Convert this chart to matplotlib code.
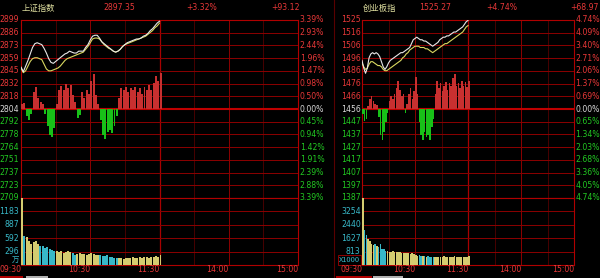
import numpy as np
import matplotlib.pyplot as plt
from matplotlib.transforms import blended_transform_factory
from matplotlib.patches import Rectangle

plt.rcParams['font.family'] = ['Noto Sans CJK SC', 'DejaVu Sans']

# Data: minutes after 09:30, sampled every 2 min (morning session)
t = np.arange(0, 121, 2)

# Shanghai composite
sh_name = "上证指数"
sh_prev = 2804.23
sh_head = ["2897.35", "+3.32%", "+93.12"]
sh_price = [2849, 2844, 2850, 2856, 2863, 2870, 2874, 2875, 2874, 2873,
            2869, 2864, 2858, 2854, 2853, 2855, 2857, 2859, 2861, 2863,
            2864, 2866, 2865, 2864, 2864, 2866, 2866, 2866, 2870, 2873,
            2878, 2882, 2883, 2883, 2880, 2876, 2874, 2872, 2870, 2868,
            2866, 2865, 2866, 2868, 2871, 2873, 2875, 2876, 2877, 2878,
            2879, 2879, 2880, 2882, 2883, 2885, 2888, 2890, 2893, 2896, 2898]
sh_avg = [2848, 2843, 2845, 2850, 2855, 2858, 2859, 2859, 2858, 2857,
          2852, 2847, 2845, 2845, 2846, 2847, 2848, 2850, 2853, 2856,
          2858, 2859, 2860, 2861, 2862, 2863, 2864, 2865, 2868, 2871,
          2875, 2879, 2880, 2880, 2879, 2876, 2873, 2871, 2869, 2868,
          2866, 2865, 2866, 2868, 2871, 2873, 2874, 2875, 2876, 2877,
          2878, 2879, 2880, 2881, 2882, 2884, 2886, 2888, 2891, 2893, 2896]
sh_power = [5, 6, -8, -12, -5, 18, 24, 12, 8, 5,
            -5, -18, -28, -30, -20, 5, 20, 25, 20, 27,
            22, 26, 15, 8, -10, -6, 18, 12, 20, 16,
            30, 37, 15, 5, -12, -28, -32, -25, -22, -26,
            -18, -8, 12, 22, 20, 23, 18, 22, 20, 24,
            18, 22, 16, 24, 20, 26, 20, 28, 35, 30, 38]
sh_vol = [1480, 650, 620, 520, 470, 500, 540, 470, 420, 420,
          380, 400, 360, 330, 320, 300, 280, 300, 260, 290,
          300, 280, 260, 230, 240, 260, 250, 240, 230, 250,
          260, 240, 220, 230, 210, 200, 190, 210, 180, 170,
          160, 150, 150, 150, 140, 150, 160, 150, 170, 160,
          150, 170, 160, 180, 170, 160, 180, 170, 190, 180, 210]
sh_left = ["2899", "2886", "2873", "2859", "2845", "2832", "2818", "2804",
           "2792", "2778", "2764", "2751", "2737", "2723", "2709"]
sh_right = ["3.39%", "2.93%", "2.44%", "1.96%", "1.47%", "0.98%", "0.50%", "0.00%",
            "0.45%", "0.94%", "1.42%", "1.91%", "2.39%", "2.88%", "3.39%"]
sh_vol_labels = ["1183", "887", "592", "296"]
sh_vol_top = 1479
sh_unit = "万"

# ChiNext
cy_name = "创业板指"
cy_prev = 1456.30
cy_head = ["1525.27", "+4.74%", "+68.97"]
cy_price = [1494, 1488, 1484, 1488, 1496, 1499, 1500, 1499, 1500, 1499,
            1497, 1493, 1489, 1487, 1489, 1492, 1494, 1495, 1496, 1497,
            1498, 1499, 1500, 1500, 1501, 1502, 1503, 1504, 1507, 1510,
            1511, 1512, 1511, 1510, 1510, 1509, 1509, 1508, 1507, 1506,
            1505, 1506, 1507, 1508, 1510, 1511, 1512, 1512, 1513, 1513,
            1514, 1515, 1516, 1516, 1517, 1518, 1519, 1520, 1522, 1524, 1525]
cy_avg = [1492, 1489, 1487, 1488, 1491, 1493, 1493, 1492, 1491, 1490,
          1490, 1489, 1487, 1486, 1486, 1487, 1488, 1489, 1490, 1491,
          1492, 1493, 1494, 1496, 1497, 1499, 1500, 1502, 1503, 1504,
          1505, 1505, 1505, 1504, 1504, 1504, 1503, 1503, 1502, 1501,
          1500, 1501, 1502, 1503, 1504, 1505, 1506, 1507, 1507, 1508,
          1509, 1510, 1511, 1512, 1513, 1514, 1515, 1516, 1518, 1520, 1521]
cy_power = [-4, -9, -8, 2, 8, 10, 6, 4, 3, -6,
            -20, -24, -18, -10, -3, 6, 10, 8, 12, 16,
            22, 15, 10, 12, -3, 4, 12, 16, 8, 14,
            25, 12, -10, -20, -24, -18, -22, -20, -24, -14,
            -8, 12, 22, 16, 20, 14, 18, 21, 15, 20,
            18, 24, 27, 18, 20, 16, 22, 18, 21, 17, 22]
cy_vol = [4100, 2100, 1800, 1600, 1450, 1300, 1200, 1250, 1150, 1100,
          1300, 1000, 950, 880, 850, 800, 780, 820, 790, 760,
          800, 770, 740, 720, 750, 730, 700, 680, 720, 650,
          600, 560, 580, 540, 520, 550, 500, 520, 480, 500,
          470, 490, 460, 500, 480, 470, 520, 480, 460, 500,
          480, 470, 550, 500, 480, 460, 500, 470, 490, 480, 520]
cy_left = ["1525", "1516", "1506", "1496", "1486", "1476", "1466", "1456",
           "1447", "1437", "1427", "1417", "1407", "1397", "1387"]
cy_right = ["4.74%", "4.09%", "3.40%", "2.71%", "2.06%", "1.37%", "0.69%", "0.00%",
            "0.65%", "1.34%", "2.03%", "2.68%", "3.36%", "4.05%", "4.74%"]
cy_vol_labels = ["3254", "2440", "1627", "813"]
cy_vol_top = 4067
cy_unit = "X1000"

time_ticks = [0, 60, 120, 180, 240]
time_labels = ["09:30", "10:30", "11:30", "14:00", "15:00"]

W, H = 600, 278
BG = 'black'
RED = '#e83838'
GREEN = '#22c822'
CYAN = '#38b8c8'
GRID = '#8c0000'
DIM = '#480000'

fig = plt.figure(figsize=(6.0, 2.78), dpi=100, facecolor=BG)


def px_axes(x0, y0, x1, y1):
    return fig.add_axes([x0 / W, 1 - y1 / H, (x1 - x0) / W, (y1 - y0) / H])


def ftext(x, y, s, **kw):
    fig.text(x / W, 1 - y / H, s, **kw)


def panel(x0, x1, name, head, prev, pct, price, avg, power, vol, left, right,
          vlabels, vtop, unit, head_x):
    ax = px_axes(x0, 20, x1, 198)
    av = px_axes(x0, 198, x1, 265)
    hi, lo = prev * (1 + pct), prev * (1 - pct)
    for a in (ax, av):
        a.set_facecolor(BG)
        a.set_xlim(0, 240)
        a.set_xticks([])
        a.set_yticks([])
        for s in a.spines.values():
            s.set_color('#b00000')
            s.set_linewidth(0.8)
        for m in (30, 90, 150, 210):
            a.axvline(m, color=DIM, lw=0.7, zorder=1)
        for m in (60, 180):
            a.axvline(m, color=GRID, lw=0.7, zorder=1)
        a.axvline(120, color='#a80000', lw=0.9, zorder=1)
    ax.set_ylim(lo, hi)
    levels = np.linspace(hi, lo, len(left))
    tr = blended_transform_factory(ax.transAxes, ax.transData)
    for i, (lv, ll, rl) in enumerate(zip(levels, left, right)):
        mid = i == len(left) // 2
        if not mid:
            ax.axhline(lv, color=GRID, lw=0.7, zorder=1)
        col = '#d8d8d8' if mid else (RED if i < len(left) // 2 else GREEN)
        ax.text(-0.006, lv, ll, transform=tr, ha='right', va='center',
                color=col, fontsize=5.6, family='DejaVu Sans', clip_on=False)
        ax.text(1.006, lv, rl, transform=tr, ha='left', va='center',
                color=col, fontsize=5.6, family='DejaVu Sans', clip_on=False)
    ax.axhline(prev, color='#c00000', lw=1.5, zorder=2)
    pw = np.array(power, dtype=float)
    ax.bar(t + 1, pw, bottom=prev, width=1.7,
           color=np.where(pw > 0, '#c83030', '#18c018'), zorder=3)
    ax.plot(t, avg, color='#d8d860', lw=0.8, zorder=4)
    ax.plot(t, price, color='#e8e8e8', lw=0.8, zorder=5)

    av.set_ylim(0, vtop)
    trv = blended_transform_factory(av.transAxes, av.transData)
    for k, vl in enumerate(vlabels):
        lv = vtop * (len(vlabels) - k) / (len(vlabels) + 1)
        av.axhline(lv, color=GRID, lw=0.7, zorder=1)
        av.text(-0.006, lv, vl, transform=trv, ha='right', va='center',
                color=CYAN, fontsize=5.6, family='DejaVu Sans', clip_on=False)
    up = np.diff(np.concatenate([[price[0]], price])) >= 0
    av.bar(t, vol, width=1.7, align='edge',
           color=np.where(up, '#d4cc70', CYAN), zorder=3)
    boxed = unit != "万"
    av.text(-0.008, 0.015, unit, transform=av.transAxes, ha='right', va='bottom',
            color=CYAN, fontsize=5.4, clip_on=False,
            bbox=dict(boxstyle='square,pad=0.12', fc='none',
                      ec='#900000' if boxed else 'none', lw=0.7))
    tx = blended_transform_factory(av.transData, fig.transFigure)
    for m, lab in zip(time_ticks, time_labels):
        av.text(m, 1 - 270 / H, lab, transform=tx,
                ha='right', va='center', color=RED, fontsize=5.6,
                family='DejaVu Sans', clip_on=False)

    ftext(x0 + 1, 8, name, color='#e0e0a0', fontsize=6, ha='left', va='center')
    for hx, hs in zip(head_x, head):
        ftext(hx, 8, hs, color=RED, fontsize=5.6, ha='right', va='center',
              family='DejaVu Sans')


panel(21, 298, sh_name, sh_head, sh_prev, 0.0339, sh_price, sh_avg, sh_power,
      sh_vol, sh_left, sh_right, sh_vol_labels, sh_vol_top, sh_unit,
      [135, 217, 300])
panel(362, 574, cy_name, cy_head, cy_prev, 0.0474, cy_price, cy_avg, cy_power,
      cy_vol, cy_left, cy_right, cy_vol_labels, cy_vol_top, cy_unit,
      [451, 517, 599])

# panel separator and bottom tabs
fig.add_artist(plt.Line2D([334 / W, 334 / W], [0, 1], color='#5a0000', lw=0.8))
for x0, x1, c in [(0, 23, '#b00000'), (26, 48, '#b0b0b0'),
                  (336, 372, '#b00000'), (373, 403, '#b0b0b0')]:
    fig.add_artist(Rectangle((x0 / W, 0), (x1 - x0) / W, 2 / H,
                             transform=fig.transFigure, color=c, lw=0))

fig.savefig('out.png', dpi=100, facecolor=BG)
